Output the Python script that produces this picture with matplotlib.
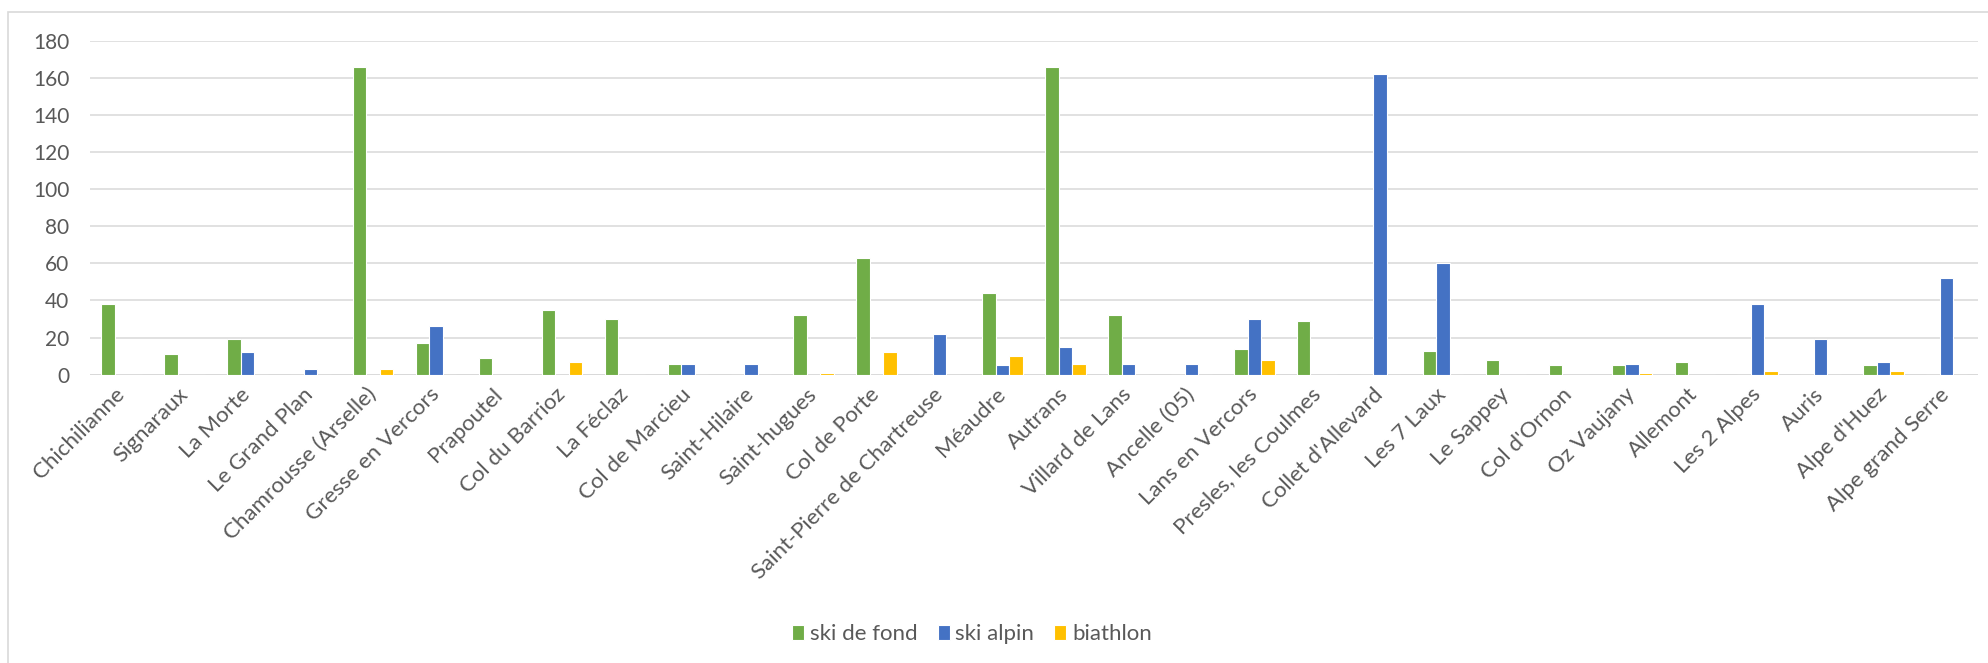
import matplotlib
matplotlib.use("Agg")
import matplotlib.pyplot as plt
from matplotlib.patches import Rectangle
import numpy as np

plt.rcParams['font.family'] = ['Lato', 'DejaVu Sans']

stations = [
    "Chichilianne", "Signaraux", "La Morte", "Le Grand Plan", "Chamrousse (Arselle)",
    "Gresse en Vercors", "Prapoutel", "Col du Barrioz", "La Féclaz", "Col de Marcieu",
    "Saint-Hilaire", "Saint-hugues", "Col de Porte", "Saint-Pierre de Chartreuse", "Méaudre",
    "Autrans", "Villard de Lans", "Ancelle (05)", "Lans en Vercors", "Presles, les Coulmes",
    "Collet d'Allevard", "Les 7 Laux", "Le Sappey", "Col d'Ornon", "Oz Vaujany",
    "Allemont", "Les 2 Alpes", "Auris", "Alpe d'Huez", "Alpe grand Serre",
]
ski_de_fond = [38, 11, 19, 0, 166, 17, 9, 35, 30, 6,
               0, 32, 63, 0, 44, 166, 32, 0, 14, 29,
               0, 13, 8, 5, 5, 7, 0, 0, 5, 0]
ski_alpin = [0, 0, 12, 3, 0, 26, 0, 0, 0, 6,
             6, 0, 0, 22, 5, 15, 6, 6, 30, 0,
             162, 60, 0, 0, 6, 0, 38, 19, 7, 52]
biathlon = [0, 0, 0, 0, 3, 0, 0, 7, 0, 0,
            0, 1, 12, 0, 10, 6, 0, 0, 8, 0,
            0, 0, 0, 0, 1, 0, 2, 0, 2, 0]

series = [("ski de fond", ski_de_fond, "#70AD47"),
          ("ski alpin", ski_alpin, "#4472C4"),
          ("biathlon", biathlon, "#FFC000")]

W, H = 1988, 663
fig = plt.figure(figsize=(W / 100, H / 100), dpi=100)
ax = fig.add_axes([90 / W, 1 - 374.7 / H, (1978 - 90) / W, (374.7 - 40.7) / H])

x = np.arange(len(stations))
step = 0.215
for i, (name, vals, col) in enumerate(series):
    ax.bar(x + (i - 1) * step, vals, width=step, color=col,
           edgecolor="white", linewidth=0.8, label=name, zorder=3)

ax.set_xlim(-0.5, len(stations) - 0.5)
ax.set_ylim(0, 180)
ax.set_yticks(range(0, 181, 20))
ax.yaxis.grid(True, color="#D9D9D9", linewidth=1.1)
ax.set_axisbelow(True)
for s in ax.spines.values():
    s.set_visible(False)
ax.axhline(0, color="#D9D9D9", linewidth=1.3, zorder=2)

ax.set_xticks(x)
ax.set_xticklabels(stations, rotation=45, ha="right", va="center",
                   rotation_mode="anchor")
ax.tick_params(axis="both", length=0, labelcolor="#595959")
ax.tick_params(axis="y", pad=15, labelsize=15)
ax.tick_params(axis="x", pad=12, labelsize=16)

# outer chart frame
fig.patches.append(Rectangle((8 / W, -0.05), 1.2, 1 - 12 / H + 0.05,
                             transform=fig.transFigure, fill=False,
                             edgecolor="#D9D9D9", linewidth=1.2))

fig.legend(loc="center", bbox_to_anchor=(972 / W, 1 - 634 / H), ncol=3,
           frameon=False, fontsize=16, labelcolor="#595959",
           handlelength=0.55, handleheight=0.65, handletextpad=0.25,
           columnspacing=0.9)

fig.savefig("out.png", dpi=100)
